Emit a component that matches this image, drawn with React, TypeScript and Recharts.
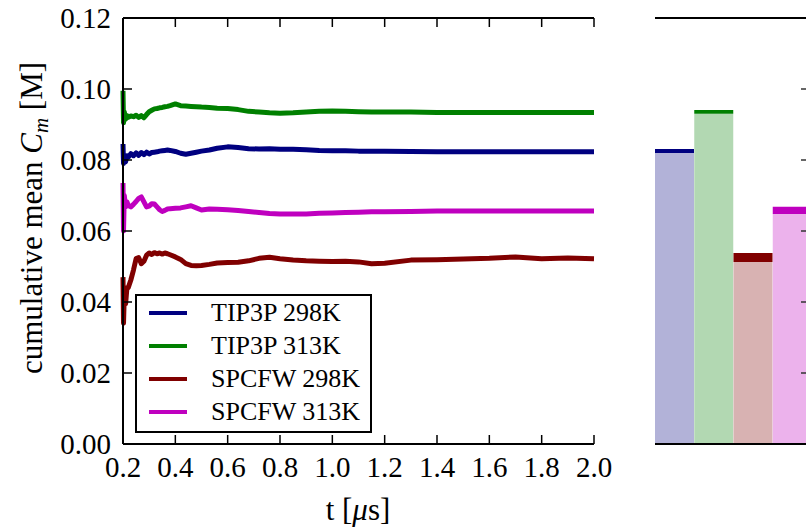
import React from 'react';
import { LineChart, Line, XAxis, YAxis, Legend, BarChart, Bar, Cell } from 'recharts';

const FONT = 'Liberation Serif';

// time axis [µs]
const times = [0.200, 0.202, 0.205, 0.21, 0.215, 0.22, 0.23, 0.24, 0.25, 0.26, 0.27, 0.28, 0.29, 0.30, 0.31, 0.32, 0.33, 0.34, 0.35, 0.36, 0.37, 0.38, 0.40, 0.42, 0.44, 0.46, 0.48, 0.50, 0.53, 0.56, 0.60, 0.64, 0.68, 0.72, 0.76, 0.80, 0.85, 0.90, 0.95, 1.00, 1.05, 1.10, 1.15, 1.20, 1.30, 1.40, 1.50, 1.60, 1.70, 1.80, 1.90, 2.00];

const tip3p298 = [0.0845, 0.0790, 0.0800, 0.0795, 0.0812, 0.0808, 0.0818, 0.0812, 0.0820, 0.0813, 0.0821, 0.0815, 0.0822, 0.0817, 0.0821, 0.0822, 0.0823, 0.0825, 0.0826, 0.0827, 0.0828, 0.0827, 0.0824, 0.0819, 0.0816, 0.0819, 0.0822, 0.0825, 0.0828, 0.0833, 0.0837, 0.0835, 0.0832, 0.0831, 0.0832, 0.0830, 0.0830, 0.0829, 0.0827, 0.0826, 0.0826, 0.0825, 0.0825, 0.0825, 0.0824, 0.0823, 0.0823, 0.0823, 0.0823, 0.0823, 0.0823, 0.0823];

const tip3p313 = [0.0995, 0.0905, 0.0935, 0.0915, 0.0925, 0.0920, 0.0924, 0.0922, 0.0926, 0.0920, 0.0925, 0.0919, 0.0928, 0.0936, 0.0940, 0.0944, 0.0945, 0.0947, 0.0948, 0.0950, 0.0951, 0.0953, 0.0958, 0.0953, 0.0952, 0.0951, 0.0950, 0.0949, 0.0948, 0.0946, 0.0945, 0.0942, 0.0937, 0.0935, 0.0933, 0.0932, 0.0933, 0.0935, 0.0937, 0.0938, 0.0937, 0.0936, 0.0935, 0.0935, 0.0935, 0.0934, 0.0934, 0.0934, 0.0934, 0.0934, 0.0934, 0.0934];

const spcfw298 = [0.0470, 0.0340, 0.0420, 0.0395, 0.0440, 0.0440, 0.0462, 0.0490, 0.0522, 0.0525, 0.0508, 0.0515, 0.0532, 0.0538, 0.0534, 0.0539, 0.0536, 0.0538, 0.0535, 0.0538, 0.0536, 0.0533, 0.0527, 0.0520, 0.0508, 0.0503, 0.0502, 0.0503, 0.0506, 0.0510, 0.0511, 0.0512, 0.0516, 0.0523, 0.0526, 0.0522, 0.0518, 0.0516, 0.0515, 0.0514, 0.0515, 0.0513, 0.0508, 0.0509, 0.0518, 0.0519, 0.0521, 0.0523, 0.0527, 0.0522, 0.0524, 0.0522];

const spcfw313 = [0.0735, 0.0600, 0.0700, 0.0668, 0.0682, 0.0672, 0.0668, 0.0675, 0.0683, 0.0692, 0.0696, 0.0682, 0.0668, 0.0670, 0.0677, 0.0676, 0.0668, 0.0660, 0.0655, 0.0658, 0.0662, 0.0663, 0.0664, 0.0665, 0.0668, 0.0671, 0.0665, 0.0659, 0.0662, 0.0661, 0.0660, 0.0658, 0.0655, 0.0652, 0.0649, 0.0648, 0.0648, 0.0648, 0.0650, 0.0651, 0.0652, 0.0653, 0.0654, 0.0654, 0.0655, 0.0656, 0.0656, 0.0656, 0.0656, 0.0656, 0.0656, 0.0656];

const seriesNames = ['TIP3P 298K', 'TIP3P 313K', 'SPCFW 298K', 'SPCFW 313K'];
const seriesKeys = ['tip3p298', 'tip3p313', 'spcfw298', 'spcfw313'];
const seriesColors = ['#000080', '#008000', '#800000', '#bf00bf'];
const lightColors = ['#b2b2d8', '#b2d8b2', '#d8b2b2', '#ecb2ec'];

const xTicks = [0.2, 0.4, 0.6, 0.8, 1.0, 1.2, 1.4, 1.6, 1.8, 2.0];
const yTicks = [0, 0.02, 0.04, 0.06, 0.08, 0.1, 0.12];
const barPanelTicks = [0.02, 0.04, 0.06, 0.08, 0.1];

// bar panel: mean band (lower / upper)
const barLow = [0.0820, 0.0930, 0.0513, 0.0648];
const barHigh = [0.0831, 0.0941, 0.0538, 0.0668];

const lineRows = times.map((t, i) => ({
  t,
  tip3p298: tip3p298[i],
  tip3p313: tip3p313[i],
  spcfw298: spcfw298[i],
  spcfw313: spcfw313[i],
}));

const barRows = seriesNames.map((name, i) => ({
  name,
  low: barLow[i],
  band: barHigh[i] - barLow[i],
}));

const LeftTick = (props: any) => {
  const { x, y, payload } = props;
  return (
    <g>
      <line x1={x} x2={x + 9} y1={y} y2={y} stroke="#000" strokeWidth={1.5} />
      <text x={x - 12} y={y + 9.5} textAnchor="end" fontFamily={FONT} fontSize={29} fill="#000">
        {Number(payload.value).toFixed(2)}
      </text>
    </g>
  );
};

const BottomTick = (props: any) => {
  const { x, y, payload } = props;
  return (
    <g>
      <line x1={x} x2={x} y1={y} y2={y - 9} stroke="#000" strokeWidth={1.5} />
      <text x={x} y={y + 33} textAnchor="middle" fontFamily={FONT} fontSize={29} fill="#000">
        {Number(payload.value).toFixed(1)}
      </text>
    </g>
  );
};

const TopTick = (props: any) => {
  const { x, y } = props;
  return <line x1={x} x2={x} y1={y} y2={y + 9} stroke="#000" strokeWidth={1.5} />;
};

const NoTick = () => <g />;

const BarPanelTick = (props: any) => {
  const { x, y } = props;
  return <line x1={x + 146} x2={x + 158} y1={y} y2={y} stroke="#333" strokeWidth={1.5} />;
};

const YLabel = () => (
  <text
    x={42}
    y={218}
    transform="rotate(-90, 42, 218)"
    textAnchor="middle"
    fontFamily={FONT}
    fontSize={31}
    fill="#000"
  >
    cumulative mean <tspan fontStyle="italic">C</tspan>
    <tspan fontStyle="italic" fontSize={21} dy={6}>m</tspan>
    <tspan dy={-6}> [M]</tspan>
  </text>
);

const XLabel = () => (
  <text x={358} y={520} textAnchor="middle" fontFamily={FONT} fontSize={31} fill="#000">
    t [<tspan fontStyle="italic">μ</tspan>s]
  </text>
);

const LegendBox = () => (
  <div
    style={{
      width: 237,
      height: 139,
      boxSizing: 'border-box',
      border: '2px solid #000',
      background: '#fff',
      fontFamily: FONT,
      fontSize: 26,
      color: '#000',
      paddingTop: 1,
    }}
  >
    {seriesNames.map((n, i) => (
      <div key={n} style={{ display: 'flex', alignItems: 'center', height: 32.8 }}>
        <span
          style={{
            display: 'inline-block',
            width: 38,
            height: 4,
            background: seriesColors[i],
            marginLeft: 12,
            marginRight: 24,
          }}
        />
        <span style={{ lineHeight: '32px' }}>{n}</span>
      </div>
    ))}
  </div>
);

export default function App() {
  return (
    <div
      style={{
        position: 'fixed',
        left: 0,
        top: 0,
        width: 806,
        height: 532,
        overflow: 'hidden',
        background: '#fff',
        fontFamily: FONT,
      }}
    >
      <div style={{ position: 'absolute', left: 0, top: 0 }}>
        <LineChart
          width={640}
          height={532}
          data={lineRows}
          margin={{ top: 17, right: 46, bottom: 0, left: 0 }}
        >
          <XAxis
            dataKey="t"
            type="number"
            domain={[0.2, 2.0]}
            ticks={xTicks}
            height={88}
            tickSize={0}
            tickMargin={0}
            tick={<BottomTick />}
            axisLine={{ stroke: '#000', strokeWidth: 2 }}
            label={<XLabel />}
          />
          <XAxis
            xAxisId="top"
            orientation="top"
            dataKey="t"
            type="number"
            domain={[0.2, 2.0]}
            ticks={xTicks}
            height={1}
            tickSize={0}
            tickMargin={0}
            tick={<TopTick />}
            axisLine={{ stroke: '#000', strokeWidth: 2 }}
          />
          <YAxis
            type="number"
            domain={[0, 0.12]}
            ticks={yTicks}
            width={123}
            tickSize={0}
            tickMargin={0}
            tick={<LeftTick />}
            axisLine={{ stroke: '#000', strokeWidth: 2 }}
            label={<YLabel />}
          />
          {seriesKeys.map((k, i) => (
            <Line
              key={k}
              dataKey={k}
              name={seriesNames[i]}
              type="linear"
              stroke={seriesColors[i]}
              strokeWidth={5}
              dot={false}
              strokeLinejoin="round"
              isAnimationActive={false}
            />
          ))}
          <Legend
            layout="vertical"
            align="center"
            verticalAlign="middle"
            content={<LegendBox />}
            wrapperStyle={{ left: 135, top: 294, width: 237, height: 139 }}
          />
        </LineChart>
      </div>
      <div style={{ position: 'absolute', left: 0, top: 0 }}>
        <BarChart
          width={830}
          height={532}
          data={barRows}
          margin={{ top: 17, right: 18, bottom: 87, left: 654 }}
          barCategoryGap={0}
          barGap={0}
        >
          <Bar dataKey="low" stackId="a" isAnimationActive={false}>
            {barRows.map((r, i) => (
              <Cell key={r.name} fill={lightColors[i]} />
            ))}
          </Bar>
          <Bar dataKey="band" stackId="a" isAnimationActive={false}>
            {barRows.map((r, i) => (
              <Cell key={r.name} fill={seriesColors[i]} />
            ))}
          </Bar>
          <XAxis
            dataKey="name"
            height={1}
            tickSize={0}
            tickMargin={0}
            tick={<NoTick />}
            axisLine={{ stroke: '#000', strokeWidth: 2 }}
          />
          <XAxis
            xAxisId="top"
            orientation="top"
            dataKey="name"
            height={1}
            tickSize={0}
            tickMargin={0}
            tick={<NoTick />}
            axisLine={{ stroke: '#000', strokeWidth: 2 }}
          />
          <YAxis
            type="number"
            domain={[0, 0.12]}
            ticks={barPanelTicks}
            width={1}
            tickSize={0}
            tickMargin={0}
            axisLine={false}
            tick={<BarPanelTick />}
          />
        </BarChart>
      </div>
    </div>
  );
}
